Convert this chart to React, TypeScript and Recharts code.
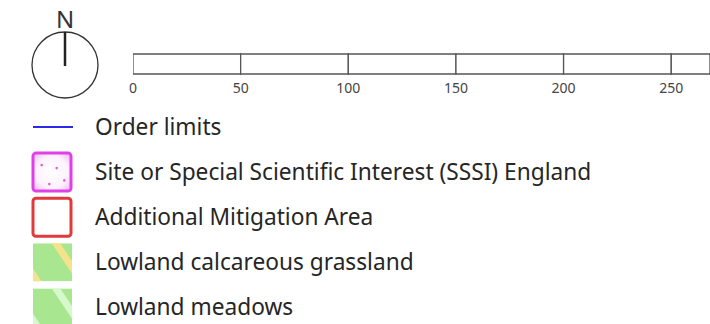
import { BarChart, Bar, XAxis, YAxis, Customized } from "recharts";

const FONT = "'Noto Sans', sans-serif";

// scale bar (map units)
const SCALE_STOPS = [0, 50, 100, 150, 200, 250, 300];
const SCALE_TICKS = [0, 50, 100, 150, 200, 250];
const SCALE_MAX = 268;

// legend
const LEGEND_LABELS = [
  "Order limits",
  "Site or Special Scientific Interest (SSSI) England",
  "Additional Mitigation Area",
  "Lowland calcareous grassland",
  "Lowland meadows",
];
const LEGEND_KINDS = ["line", "sssi", "mitigation", "calcareous", "meadows"];
const NORTH_LABEL = "N";

// one row, stacked segments of the scale bar
const segKeys = SCALE_STOPS.slice(0, -1).map((_, i) => `seg${i}`);
const scaleRow: Record<string, number | string> = { name: "scale" };
SCALE_STOPS.slice(0, -1).forEach((s, i) => {
  scaleRow[`seg${i}`] = SCALE_STOPS[i + 1] - s;
});

function Compass() {
  return (
    <g>
      <text x={65} y={28} textAnchor="middle" fontSize={24} fill="#333" fontFamily={FONT}>
        {NORTH_LABEL}
      </text>
      <circle cx={65} cy={65} r={33} fill="none" stroke="#333" strokeWidth={1.3} />
      <line x1={65} y1={32} x2={65} y2={66} stroke="#222" strokeWidth={2.5} />
    </g>
  );
}

function Swatch({ kind, y, idx }: { kind: string; y: number; idx: number }) {
  const x = 33;
  const size = 38;
  const top = y - size / 2;
  if (kind === "line") {
    return <line x1={x} y1={y} x2={x + 40} y2={y} stroke="#2a2ae8" strokeWidth={2} />;
  }
  if (kind === "sssi") {
    const dots = [
      [8.7, 12],
      [23.7, 15],
      [16.3, 31],
      [31.3, 27.3],
    ];
    return (
      <g>
        <rect x={x} y={top} width={size} height={size} rx={3} fill="url(#sssiFill)" stroke="#e040e8" strokeWidth={3} />
        {dots.map(([dx, dy], i) => (
          <circle key={i} cx={x + dx} cy={top + dy} r={1.3} fill="#e060e0" />
        ))}
      </g>
    );
  }
  if (kind === "mitigation") {
    return <rect x={x} y={top} width={size} height={size} rx={3} fill="#fff" stroke="#e03a3a" strokeWidth={3} />;
  }
  const stripe = kind === "calcareous" ? "#f4e38c" : "#d6f8cc";
  const id = `clip-${idx}`;
  return (
    <g>
      <defs>
        <clipPath id={id}>
          <rect x={x} y={top} width={size + 1} height={size} />
        </clipPath>
      </defs>
      <g clipPath={`url(#${id})`}>
        <rect x={x} y={top} width={size + 1} height={size} fill="#a8e68f" />
        <line x1={x + 7} y1={top - 24} x2={x + 55} y2={top + 48} stroke={stripe} strokeWidth={7} />
        <line x1={x - 37} y1={top - 24} x2={x + 11} y2={top + 48} stroke={stripe} strokeWidth={7} />
      </g>
    </g>
  );
}

function LegendBlock() {
  return (
    <g>
      <defs>
        <radialGradient id="sssiFill" cx="50%" cy="50%" r="60%">
          <stop offset="0%" stopColor="#ffffff" />
          <stop offset="70%" stopColor="#fdf2fd" />
          <stop offset="100%" stopColor="#f4c8f4" />
        </radialGradient>
      </defs>
      {LEGEND_LABELS.map((label, i) => {
        const y = 127 + i * 45.1;
        return (
          <g key={label}>
            <Swatch kind={LEGEND_KINDS[i]} y={y} idx={i} />
            <text x={95} y={y} dy="0.35em" fontSize={22.7} fill="#262626" fontFamily={FONT}>
              {label}
            </text>
          </g>
        );
      })}
    </g>
  );
}

export default function App() {
  return (
    <div style={{ position: "absolute", left: 0, top: 0, width: 710, height: 324, overflow: "hidden", background: "#fff" }}>
      <BarChart
        width={710}
        height={324}
        data={[scaleRow]}
        layout="vertical"
        barCategoryGap={0}
        margin={{ top: 54, right: 0, bottom: 230, left: 133 }}
      >
        <XAxis
          type="number"
          domain={[0, SCALE_MAX]}
          ticks={SCALE_TICKS}
          allowDataOverflow
          interval={0}
          height={20}
          axisLine={false}
          tickLine={false}
          tickSize={0}
          tickMargin={9}
          tick={{ fill: "#444", fontSize: 14, fontFamily: FONT }}
        />
        <YAxis hide type="category" dataKey="name" />
        {segKeys.map((k) => (
          <Bar key={k} dataKey={k} stackId="scale" fill="#fff" stroke="#555" strokeWidth={1.3} isAnimationActive={false} />
        ))}
        <Customized component={Compass} />
        <Customized component={LegendBlock} />
      </BarChart>
    </div>
  );
}
